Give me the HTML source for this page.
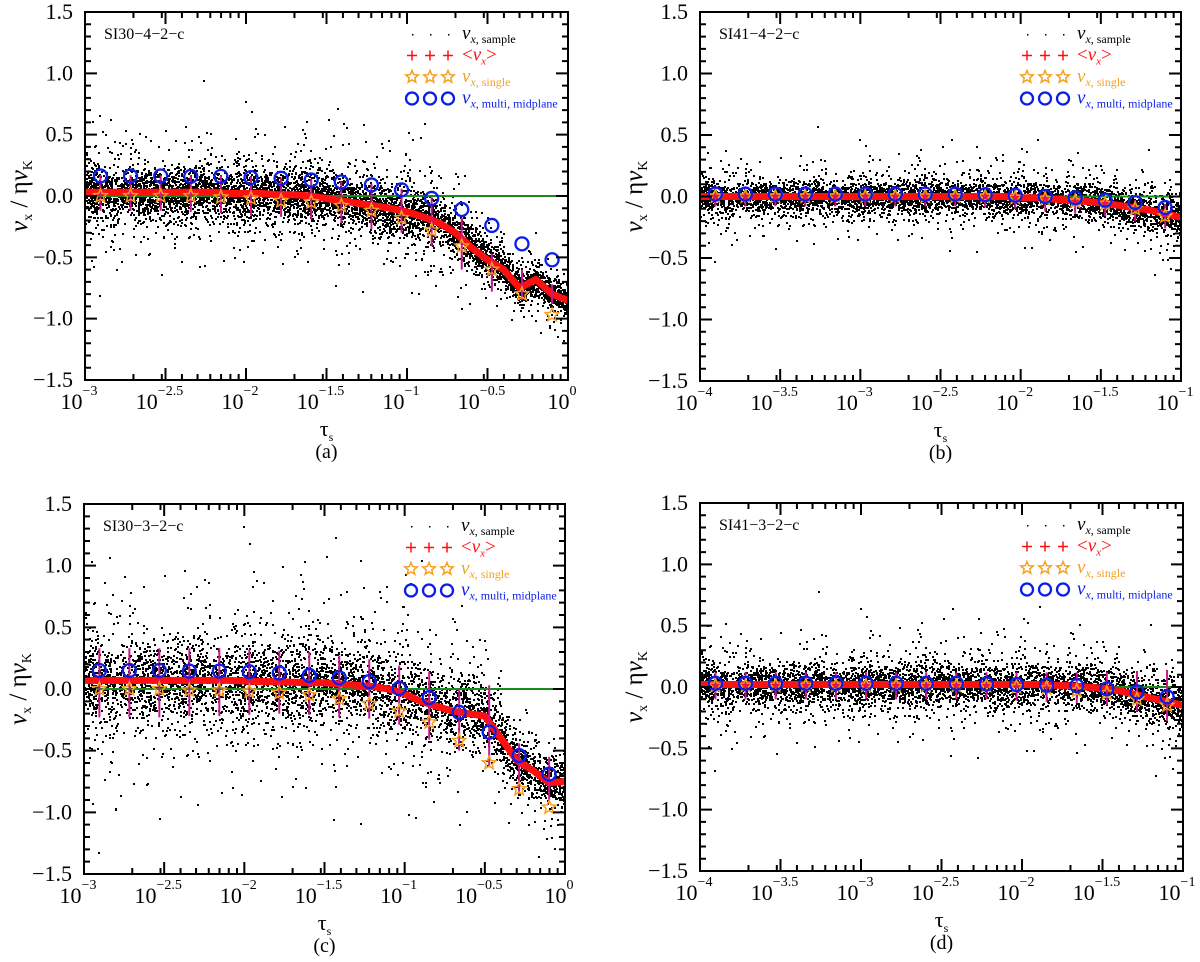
<!DOCTYPE html>
<html><head><meta charset="utf-8"><style>
html,body{margin:0;padding:0;background:#fff}
svg{display:block}
text{font-family:"Liberation Serif","DejaVu Serif",serif}
</style></head><body>
<svg id="fig" width="1200" height="962" viewBox="0 0 1200 962" font-family="Liberation Serif, serif" xmlns="http://www.w3.org/2000/svg"></svg>
<script>
// ---- data ----
const markerIdx = [0,1,2,3,4,5,6,7,8,9,10,11,12,13,14,15];
const yTicks = [-1.5,-1.0,-0.5,0.0,0.5,1.0,1.5];
const yTickLabels = ["\u22121.5","\u22121.0","\u22120.5","0.0","0.5","1.0","1.5"];
const xLabelsA = ["\u22123","\u22122.5","\u22122","\u22121.5","\u22121","\u22120.5","0"];
const xLabelsB = ["\u22124","\u22123.5","\u22123","\u22122.5","\u22122","\u22121.5","\u22121"];
// panel a
const circA = [0.163,0.163,0.163,0.16,0.16,0.15,0.144,0.13,0.114,0.09,0.05,-0.02,-0.11,-0.24,-0.39,-0.52];
const starA = [0,0,0,0,-0.01,-0.02,-0.04,-0.05,-0.08,-0.12,-0.18,-0.28,-0.41,-0.6,-0.8,-0.97];
const errTopA = [0.17,0.17,0.17,0.17,0.17,0.16,0.15,0.14,0.12,0.1,0.06,-0.01,-0.18,-0.47,-0.6,-0.72];
const errBotA = [-0.12,-0.12,-0.12,-0.13,-0.14,-0.16,-0.17,-0.19,-0.22,-0.27,-0.3,-0.41,-0.6,-0.78,-0.85,-0.88];
const meanA = [0.03,0.03,0.03,0.03,0.03,0.03,0.03,0.03,0.03,0.02,0.02,0.02,0.01,0.01,0.0,-0.02,-0.04,-0.06,-0.08,-0.1,-0.13,-0.17,-0.22,-0.3,-0.42,-0.52,-0.6,-0.75,-0.68,-0.8,-0.85];
const spreadA = [0.12,0.12,0.12,0.12,0.12,0.12,0.12,0.12,0.12,0.12,0.12,0.12,0.12,0.12,0.12,0.12,0.12,0.12,0.12,0.12,0.12,0.12,0.12,0.11,0.1,0.09,0.08,0.08,0.07,0.07,0.06];
// panel b
const circB = [0.02,0.02,0.02,0.02,0.02,0.02,0.02,0.02,0.02,0.015,0.01,0.0,-0.01,-0.03,-0.05,-0.09];
const starB = [0,0,0,0,0,0,0,0,0,0,-0.01,-0.02,-0.04,-0.06,-0.1,-0.16];
const errTopB = [0.05,0.05,0.05,0.05,0.05,0.05,0.05,0.05,0.05,0.05,0.04,0.04,0.03,0.0,-0.03,-0.06];
const errBotB = [-0.08,-0.08,-0.08,-0.08,-0.08,-0.08,-0.08,-0.08,-0.08,-0.09,-0.1,-0.12,-0.14,-0.16,-0.2,-0.26];
const meanB = [0.0,0.0,0.0,0.0,0.0,0.0,0.0,0.0,0.0,0.0,0.0,0.0,0.0,0.0,0.0,0.0,0.0,0.0,0.0,0.0,-0.01,-0.01,-0.02,-0.03,-0.04,-0.05,-0.07,-0.09,-0.11,-0.14,-0.17];
const spreadB = [0.075,0.075,0.075,0.075,0.075,0.075,0.075,0.075,0.075,0.075,0.075,0.075,0.075,0.075,0.075,0.075,0.075,0.075,0.075,0.075,0.075,0.075,0.075,0.075,0.08,0.08,0.08,0.085,0.09,0.09,0.09];
// panel c
const circC = [0.15,0.15,0.15,0.145,0.145,0.14,0.13,0.11,0.09,0.06,0.005,-0.07,-0.19,-0.35,-0.54,-0.69];
const starC = [0,0,0,-0.01,-0.01,-0.02,-0.03,-0.05,-0.08,-0.12,-0.18,-0.27,-0.42,-0.6,-0.81,-0.96];
const errTopC = [0.33,0.33,0.33,0.33,0.33,0.32,0.31,0.3,0.27,0.24,0.19,0.14,0.0,0.03,-0.44,-0.55];
const errBotC = [-0.23,-0.23,-0.23,-0.22,-0.22,-0.21,-0.2,-0.21,-0.23,-0.24,-0.29,-0.41,-0.5,-0.63,-0.85,-0.9];
const meanC = [0.07,0.07,0.07,0.07,0.07,0.07,0.07,0.07,0.07,0.07,0.065,0.06,0.06,0.055,0.05,0.05,0.04,0.03,0.02,0.0,-0.04,-0.1,-0.14,-0.18,-0.2,-0.22,-0.4,-0.58,-0.66,-0.76,-0.75];
const spreadC = [0.2,0.2,0.2,0.2,0.2,0.2,0.2,0.2,0.2,0.2,0.2,0.2,0.2,0.2,0.19,0.19,0.19,0.19,0.18,0.18,0.18,0.18,0.18,0.17,0.17,0.16,0.15,0.13,0.12,0.11,0.11];
// panel d
const circD = [0.03,0.03,0.03,0.03,0.03,0.03,0.03,0.03,0.03,0.025,0.02,0.015,0.01,-0.015,-0.04,-0.08];
const starD = [0.01,0.01,0.01,0.01,0.01,0.01,0.01,0.01,0.01,0.01,0.0,-0.01,-0.03,-0.05,-0.1,-0.15];
const errTopD = [0.12,0.12,0.12,0.12,0.12,0.12,0.12,0.12,0.12,0.12,0.12,0.12,0.12,0.12,0.13,0.14];
const errBotD = [-0.1,-0.1,-0.1,-0.1,-0.1,-0.1,-0.1,-0.1,-0.1,-0.1,-0.11,-0.12,-0.13,-0.15,-0.2,-0.28];
const meanD = [0.02,0.02,0.02,0.02,0.02,0.02,0.02,0.02,0.02,0.02,0.02,0.02,0.02,0.02,0.02,0.02,0.02,0.02,0.02,0.02,0.02,0.02,0.015,0.01,0.0,-0.01,-0.03,-0.06,-0.09,-0.12,-0.15];
const spreadD = [0.1,0.1,0.1,0.1,0.1,0.1,0.1,0.1,0.1,0.1,0.1,0.1,0.1,0.1,0.1,0.1,0.1,0.1,0.1,0.1,0.1,0.1,0.1,0.1,0.1,0.1,0.1,0.1,0.11,0.11,0.11];

const NS="http://www.w3.org/2000/svg";
const fig=document.getElementById('fig');
function mk(tag,attrs,parent){const e=document.createElementNS(NS,tag);for(const k in attrs)e.setAttribute(k,attrs[k]);(parent||fig).appendChild(e);return e;}
let seed=12345;
function rnd(){seed=(seed*1103515245+12345)%2147483648;return seed/2147483648;}
function gauss(){let u=rnd()||1e-9,v=rnd();return Math.sqrt(-2*Math.log(u))*Math.cos(2*Math.PI*v);}

function panel(cfg){
  const g=mk('g',{});
  
  
  const {x0,x1,y0,y1,lmin}=cfg;
  const X=l=>x0+(l-lmin)/3*(x1-x0);
  const Y=v=>y1-(v+1.5)/3*(y1-y0);
  const mlog=i=>lmin+0.096+0.187*i;
  const interp=(arr,l)=>{const t=(l-lmin)/0.1;const i=Math.max(0,Math.min(29,Math.floor(t)));const f=t-i;return arr[i]*(1-f)+arr[i+1]*f;};
  const clip='clip'+cfg.id;
  const cp=mk('clipPath',{id:clip},g);mk('rect',{x:x0,y:y0,width:x1-x0,height:y1-y0},cp);
  const sc=mk('g',{'clip-path':'url(#'+clip+')',fill:'#000','shape-rendering':'crispEdges'},g);
  
  
  let d='';
  for(let k=0;k<cfg.n;k++){
    const l=lmin+rnd()*3;
    const c=interp(cfg.mean,l), s=interp(cfg.spread,l);
    const r=rnd();
    const v=c+gauss()*s*(r<0.15?2.3:(r<0.5?1.1:0.65));
    d+='M'+Math.round(X(l))+' '+Math.round(Y(v))+'h2v2h-2z';
  }
  mk('path',{d:d},sc);
  const zl=mk('line',{x1:x0,x2:x1,y1:Y(0),y2:Y(0),stroke:'#1a8a1a','stroke-width':2},g);
  
  
  let pts=cfg.mean.map((v,i)=>X(lmin+i*0.1).toFixed(1)+','+Y(v).toFixed(1)).join(' ');
  const mc=mk('polyline',{points:pts,fill:'none',stroke:'#ff1010','stroke-width':7,'stroke-linejoin':'round','clip-path':'url(#'+clip+')'},g);
  
  
  markerIdx.forEach(i=>{
    const px=X(mlog(i));
    const eb=mk('line',{x1:px,x2:px,y1:Y(cfg.errTop[i]),y2:Y(cfg.errBot[i]),stroke:'#c8188c','stroke-width':2},g);
    
    
  });
  markerIdx.forEach(i=>{
    const st=star(X(mlog(i)),Y(cfg.star[i]),7,g);
    
    
    const ci=mk('circle',{cx:X(mlog(i)),cy:Y(cfg.circ[i]),r:6.5,fill:'none',stroke:'#0a1eea','stroke-width':2.3},g);
    
    
  });
  const fr=mk('rect',{x:x0,y:y0,width:x1-x0,height:y1-y0,fill:'none',stroke:'#000','stroke-width':2},g);
  
  
  let td='';
  for(let v=-1.5;v<=1.501;v+=0.1){const py=Y(v);const major=Math.abs(v*2-Math.round(v*2))<1e-6;const len=major?12:6;td+=`M${x0} ${py}h${len}M${x1} ${py}h${-len}`;}
  for(let dd=lmin;dd<lmin+3;dd++){for(let m=1;m<10;m++){const px=X(dd+Math.log10(m));td+=`M${px} ${y1}v-6M${px} ${y0}v6`;}
    for(const h of [0,0.5]){const px=X(dd+h);td+=`M${px} ${y1}v-12M${px} ${y0}v12`;}}
  td+=`M${x1} ${y1}v-12M${x1} ${y0}v12`;
  mk('path',{d:td,stroke:'#000','stroke-width':2,fill:'none'},g);
  yTicks.forEach((v,i)=>{const t=mk('text',{x:x0-12,y:Y(v)+7,'font-size':22,'text-anchor':'end'},g);t.textContent=yTickLabels[i];
    });
  cfg.xlabels.forEach((lab,i)=>{const px=X(lmin+i*0.5);const t=mk('text',{x:px-6,y:y1+29,'font-size':22,'text-anchor':'middle'},g);
    t.appendChild(document.createTextNode('10'));const sp=mk('tspan',{'font-size':14,dy:-14},t);sp.textContent=lab;
    });
  const xt=mk('text',{x:(x0+x1)/2,y:y1+56,'font-size':22,'text-anchor':'middle'},g);
  xt.appendChild(document.createTextNode('\u03c4'));const xs=mk('tspan',{'font-size':12,dy:5},xt);xs.textContent='s';
  
  const yt=mk('text',{transform:`translate(${x0-58},${(y0+y1)/2}) rotate(-90)`,'font-size':25,'text-anchor':'middle'},g);
  const v1=mk('tspan',{'font-style':'italic'},yt);v1.textContent='v';
  const s1=mk('tspan',{'font-size':14,dy:5},yt);s1.textContent='x';
  const m1=mk('tspan',{dy:-5},yt);m1.textContent=' / \u03b7';
  const v2=mk('tspan',{'font-style':'italic'},yt);v2.textContent='v';
  const s2=mk('tspan',{'font-size':14,dy:5},yt);s2.textContent='K';
  
  const pl=mk('text',{x:(x0+x1)/2,y:y1+78,'font-size':20,'text-anchor':'middle'},g);pl.textContent='('+cfg.id+')';
  
  const rn=mk('text',{x:x0+19,y:y0+27,'font-size':16},g);rn.textContent=cfg.run;
  
  const lg=mk('g',{},g);
  const lx=x0+327, ly=y0+22;
  const labels=[['#000','x, sample',false],['#ff1010','',true],['#f5a020','x, single',false],['#0a1eea','x, multi, midplane',false]];
  labels.forEach((L,r)=>{
    const yy=ly+r*21.5;
    for(let k=0;k<3;k++){const sx=lx+k*18;
      if(r===0)mk('rect',{x:sx,y:yy,width:1.5,height:1.5,fill:'#000'},lg);
      if(r===1)mk('path',{d:`M${sx-5} ${yy}h10M${sx} ${yy-5}v10`,stroke:'#ff1010','stroke-width':1.5},lg);
      if(r===2)star(sx,yy,6.5,lg);
      if(r===3)mk('circle',{cx:sx,cy:yy,r:6,fill:'none',stroke:'#0a1eea','stroke-width':2.3},lg);}
    const t=mk('text',{x:lx+50,y:yy+5,'font-size':19,fill:L[0]},lg);
    if(L[2]){t.appendChild(document.createTextNode('<'));const v=mk('tspan',{'font-style':'italic'},t);v.textContent='v';
      const s=mk('tspan',{'font-size':11,dy:4,'font-style':'italic'},t);s.textContent='x';const e=mk('tspan',{dy:-4},t);e.textContent='>';}
    else{const v=mk('tspan',{'font-style':'italic'},t);v.textContent='v';const s=mk('tspan',{'font-size':12,dy:4},t);
      const si=mk('tspan',{'font-style':'italic'},s);si.textContent='x';s.appendChild(document.createTextNode(L[1].slice(1)));}
  });
}
function star(cx,cy,r,parent){let p=[];for(let k=0;k<10;k++){const a=-Math.PI/2+k*Math.PI/5;const rr=k%2?r*0.45:r;p.push((cx+rr*Math.cos(a)).toFixed(1)+','+(cy+rr*Math.sin(a)).toFixed(1));}
  return mk('polygon',{points:p.join(' '),fill:'none',stroke:'#f5a020','stroke-width':1.5},parent);}

panel({id:'a',run:'SI30\u22124\u22122\u2212c',x0:85,x1:568,y0:12,y1:380,lmin:-3,xlabels:xLabelsA,circ:circA,star:starA,errTop:errTopA,errBot:errBotA,mean:meanA,spread:spreadA,n:16000});
panel({id:'b',run:'SI41\u22124\u22122\u2212c',x0:700,x1:1181,y0:12,y1:381,lmin:-4,xlabels:xLabelsB,circ:circB,star:starB,errTop:errTopB,errBot:errBotB,mean:meanB,spread:spreadB,n:18000});
panel({id:'c',run:'SI30\u22123\u22122\u2212c',x0:84,x1:565,y0:504,y1:874,lmin:-3,xlabels:xLabelsA,circ:circC,star:starC,errTop:errTopC,errBot:errBotC,mean:meanC,spread:spreadC,n:16000});
panel({id:'d',run:'SI41\u22123\u22122\u2212c',x0:700,x1:1183,y0:503,y1:871,lmin:-4,xlabels:xLabelsB,circ:circD,star:starD,errTop:errTopD,errBot:errBotD,mean:meanD,spread:spreadD,n:16000});
</script>
</body></html>
